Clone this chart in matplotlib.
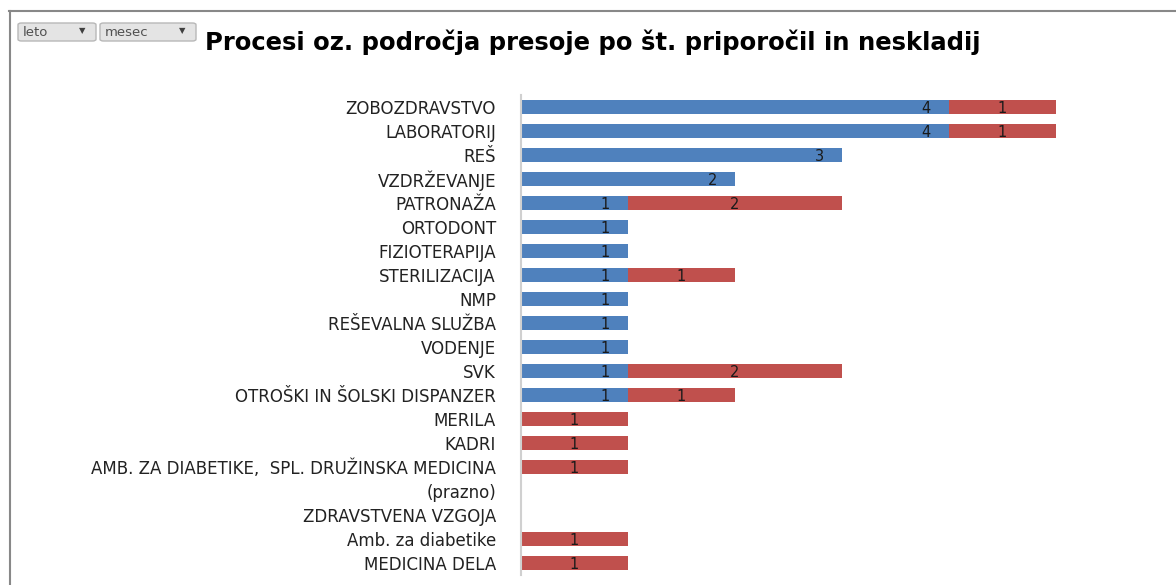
import numpy as np
import matplotlib
matplotlib.use("Agg")
import matplotlib.pyplot as plt
from matplotlib.patches import FancyBboxPatch
from matplotlib.lines import Line2D

categories = ["ZOBOZDRAVSTVO", "LABORATORIJ", "REŠ", "VZDRŽEVANJE", "PATRONAŽA",
              "ORTODONT", "FIZIOTERAPIJA", "STERILIZACIJA", "NMP", "REŠEVALNA SLUŽBA",
              "VODENJE", "SVK", "OTROŠKI IN ŠOLSKI DISPANZER", "MERILA", "KADRI",
              "AMB. ZA DIABETIKE,  SPL. DRUŽINSKA MEDICINA", "(prazno)",
              "ZDRAVSTVENA VZGOJA", "Amb. za diabetike", "MEDICINA DELA"]
priporocila = [4, 4, 3, 2, 1, 1, 1, 1, 1, 1, 1, 1, 1,
               np.nan, np.nan, np.nan, np.nan, np.nan, np.nan, np.nan]
neskladja = [1, 1, np.nan, np.nan, 2, np.nan, np.nan, 1, np.nan, np.nan, np.nan, 2, 1,
             1, 1, 1, np.nan, np.nan, 1, 1]
title = "Procesi oz. področja presoje po št. priporočil in neskladij"

BLUE = "#4F81BD"
RED = "#C0504D"

W, H = 1176, 585
fig = plt.figure(figsize=(W / 100, H / 100), dpi=100)
ax = fig.add_axes([521 / W, 1 - 575 / H, (1152 - 521) / W, (575 - 95) / H])

y = np.arange(len(categories))
p = np.array(priporocila, dtype=float)
n = np.array(neskladja, dtype=float)
left_n = np.nan_to_num(p)

bb = ax.barh(y, p, height=0.6, color=BLUE, edgecolor="none")
br = ax.barh(y, n, left=left_n, height=0.6, color=RED, edgecolor="none")

for rect, v in zip(bb, p):
    if np.isfinite(v):
        ax.text(rect.get_x() + rect.get_width() - 0.21, rect.get_y() + rect.get_height() / 2,
                f"{int(v)}", ha="center", va="center_baseline", fontsize=10.5, color="#1a1a1a")
for rect, v in zip(br, n):
    if np.isfinite(v):
        ax.text(rect.get_x() + rect.get_width() / 2, rect.get_y() + rect.get_height() / 2,
                f"{int(v)}", ha="center", va="center_baseline", fontsize=10.5, color="#1a1a1a")

ax.set_xlim(0, 5.9)
ax.set_ylim(len(categories) - 0.5, -0.5)
ax.set_yticks(y)
ax.set_yticklabels(categories, fontsize=12, color="#222222")
ax.tick_params(axis="y", length=0, pad=18)
ax.set_xticks([])
for s in ["top", "right", "bottom"]:
    ax.spines[s].set_visible(False)
ax.spines["left"].set_color("#d0d0d0")
ax.spines["left"].set_linewidth(1.5)

fig.text(205 / W, 1 - 42 / H, title, fontsize=17.5, fontweight="bold",
         ha="left", va="center", color="black")

# outer frame
fig.add_artist(Line2D([9 / W, 1], [1 - 11 / H, 1 - 11 / H], color="#888888", lw=1.5,
                      transform=fig.transFigure))
fig.add_artist(Line2D([9.5 / W, 9.5 / W], [0, 1 - 11 / H], color="#888888", lw=1.5,
                      transform=fig.transFigure))

# pivot field buttons
for x0, x1, label in [(18, 96, "leto"), (100, 196, "mesec")]:
    box = FancyBboxPatch((x0 / W, 1 - 41 / H), (x1 - x0) / W, 18 / H,
                         boxstyle="round,pad=0,rounding_size=0.003",
                         transform=fig.transFigure, facecolor="#e4e4e4",
                         edgecolor="#b8b8b8", lw=1)
    fig.add_artist(box)
    fig.text((x0 + 5) / W, 1 - 32 / H, label, fontsize=9.5, color="#505050",
             ha="left", va="center")
    fig.text((x1 - 14) / W, 1 - 31 / H, "▼", fontsize=6, color="#404040",
             ha="center", va="center")

fig.savefig("out.png", dpi=100, facecolor="white")
